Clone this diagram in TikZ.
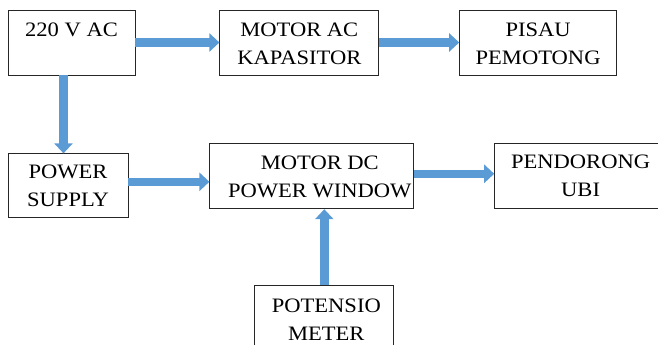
\documentclass[tikz,border=0pt]{standalone}
\usepackage{fontspec}
\setmainfont{Liberation Serif}[FakeStretch=1.1]
\usetikzlibrary{arrows.meta,positioning}
\definecolor{FlowBlue}{HTML}{5B9BD5}

\begin{document}
\begin{tikzpicture}[x=1pt,y=1pt,
  card/.style={draw=black!85,line width=0.8pt,minimum height=65pt,inner sep=0pt},
  boxtext/.style={font=\fontsize{20.5}{28}\selectfont,align=center,inner sep=0pt},
  flow/.style={draw=FlowBlue,line width=8.5pt,-{Triangle[length=10pt,width=18pt]}},
]
\useasboundingbox (0,0) rectangle (658,345);
\node[card,minimum width=127pt] (ac) at (71.5,302.5) {};
\node[boxtext,yshift=12.5pt] (acT) at (ac.center) {220 V AC};
\node[card,minimum width=159pt,right=84pt of ac] (motac) {};
\node[boxtext,yshift=-1pt] (motacT) at (motac.center) {MOTOR AC\\KAPASITOR};
\node[card,minimum width=157pt,right=80pt of motac] (pisau) {};
\node[boxtext,yshift=-1pt] (pisauT) at (pisau.center) {PISAU\\PEMOTONG};
\node[card,minimum width=120pt,minimum height=64pt,below right=78pt and 0pt of ac.south west] (psu) {};
\node[boxtext] (psuT) at (psu.center) {POWER\\SUPPLY};
\node[card,minimum width=204pt,right=81pt of psu,yshift=9.5pt] (motdc) {};
\node[boxtext,xshift=8pt,yshift=-1pt] (motdcT) at (motdc.center) {MOTOR DC\\POWER WINDOW};
\node[card,minimum width=164pt,right=80pt of motdc] (ubi) {};
\node[boxtext,xshift=4pt] (ubiT) at (ubi.center) {PENDORONG\\UBI};
\node[card,minimum width=139pt,below=76pt of motdc,xshift=12.5pt] (pot) {};
\node[boxtext,xshift=2pt,yshift=-1.5pt] (potT) at (pot.center) {POTENSIO\\METER};
% arrows
\draw[flow] (ac) -- (motac);
\draw[flow] (motac) -- (pisau);
\draw[flow] ([xshift=-8pt]ac.south) -- ([xshift=-8pt]ac.south |- psu.north);
\draw[flow] ([yshift=4pt]psu.east) -- ([yshift=4pt]psu.east -| motdc.west);
\draw[flow] ([yshift=2.5pt]motdc.east) -- ([yshift=2.5pt]motdc.east -| ubi.west);
\draw[flow] (pot.north) -- (pot.north |- motdc.south);
\end{tikzpicture}
\end{document}
